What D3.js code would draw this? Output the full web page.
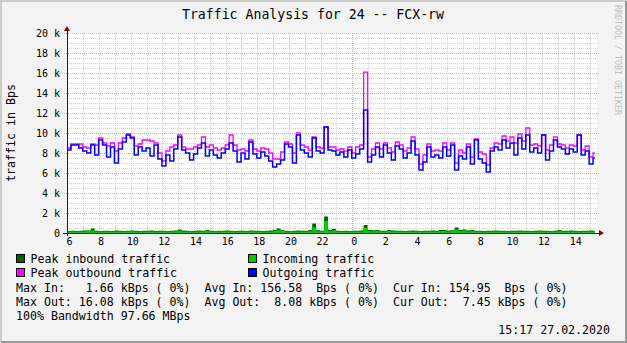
<!DOCTYPE html>
<html>
<head>
<meta charset="utf-8">
<script src="https://cdnjs.cloudflare.com/ajax/libs/d3/7.8.5/d3.min.js"></script>
<style>
body { margin: 0; background: #fff; }
svg { display: block; font-family: "DejaVu Sans Mono", monospace; }
text { white-space: pre; }
</style>
</head>
<body>
<div id="vis"></div>
<script>

// time axis in hours since midnight of the first day, one sample per 15 minutes
var startHour = 5.94;
var endHour = 39.44;
var stepHours = 0.25;
var lastHour = 39.3;

// traffic in kBps
var outgoing = [
	8.3,8.8,8.8,8.5,8.2,8.0,8.8,7.8,9.3,8.8,
	7.6,8.6,7.0,8.4,9.1,9.8,9.5,7.8,8.6,8.2,
	8.5,7.7,8.8,7.4,6.7,7.8,7.2,8.4,9.6,8.3,
	8.0,7.3,7.9,8.5,9.0,7.7,8.3,7.8,7.5,8.0,
	8.4,9.0,8.2,7.1,8.0,7.4,9.1,7.9,7.5,8.1,
	7.7,7.2,6.6,6.9,7.3,8.9,8.6,7.0,9.8,8.3,
	8.0,7.6,9.5,8.2,8.0,10.6,8.3,8.2,7.8,8.1,
	7.6,8.3,7.5,7.9,8.4,12.3,7.1,7.8,8.6,7.6,
	8.8,8.0,7.3,8.7,8.4,7.5,8.0,9.2,7.8,6.3,
	7.1,8.6,7.6,7.8,7.5,8.6,7.7,8.8,6.3,7.7,
	7.4,8.6,6.9,9.3,7.4,7.0,6.1,8.2,8.6,8.3,
	9.3,8.5,9.0,7.8,9.5,8.4,9.8,8.1,8.5,8.0,
	9.8,7.3,8.2,9.3,8.6,8.4,7.9,8.4,8.1,9.8,
	7.8,8.2,6.9,7.5
];

var peakOutgoing = [
	8.5,8.9,8.9,8.9,8.6,8.5,8.9,8.8,9.5,9.0,
	8.7,9.0,8.2,9.0,9.5,9.9,9.6,8.7,8.9,9.3,
	9.3,9.2,9.0,8.0,7.2,8.2,8.6,8.8,9.8,8.6,
	8.4,8.4,8.6,8.8,9.6,8.6,8.8,8.5,8.3,8.5,
	8.8,9.8,8.8,8.3,8.4,8.2,9.3,8.4,8.2,8.5,
	8.4,8.0,7.4,7.4,8.1,9.1,8.9,8.0,10.0,8.8,
	8.6,8.3,9.6,8.6,8.5,10.6,8.6,8.6,8.3,8.4,
	8.2,8.6,8.0,8.6,8.8,16.08,7.6,8.4,9.0,8.4,
	9.0,8.5,8.1,9.1,8.8,8.2,8.5,9.6,8.4,6.9,
	7.8,8.9,8.2,8.3,8.2,9.0,8.3,9.0,7.0,8.3,
	8.0,8.9,7.6,9.4,8.1,7.9,6.8,8.5,9.0,8.9,
	9.7,9.2,9.6,9.0,9.9,9.2,10.5,8.8,8.9,8.7,
	9.8,8.3,8.8,9.6,8.9,8.8,8.5,8.8,8.7,9.8,
	8.3,8.7,7.6,8.0
];

var incoming = [
	0.14,0.15,0.14,0.15,0.16,0.18,0.28,0.15,0.14,0.15,
	0.15,0.14,0.16,0.15,0.14,0.15,0.17,0.15,0.14,0.15,
	0.15,0.16,0.14,0.15,0.15,0.14,0.15,0.17,0.22,0.16,
	0.15,0.14,0.15,0.16,0.15,0.20,0.15,0.14,0.15,0.15,
	0.16,0.15,0.14,0.15,0.15,0.14,0.16,0.15,0.15,0.14,
	0.15,0.16,0.20,0.30,0.19,0.15,0.14,0.15,0.16,0.15,
	0.15,0.20,0.55,0.18,0.15,1.20,0.20,0.28,0.15,0.14,
	0.15,0.14,0.15,0.15,0.16,0.50,0.20,0.18,0.20,0.15,
	0.15,0.20,0.16,0.15,0.15,0.14,0.15,0.16,0.15,0.14,
	0.15,0.15,0.16,0.15,0.20,0.20,0.16,0.19,0.38,0.20,
	0.24,0.16,0.20,0.15,0.15,0.14,0.15,0.15,0.16,0.15,
	0.15,0.14,0.15,0.15,0.16,0.15,0.15,0.14,0.15,0.16,
	0.15,0.15,0.14,0.15,0.20,0.15,0.15,0.16,0.15,0.14,
	0.15,0.15,0.16,0.15
];

var peakIncoming = [
	0.20,0.22,0.20,0.22,0.24,0.25,0.45,0.22,0.20,0.22,
	0.22,0.20,0.24,0.22,0.20,0.22,0.25,0.22,0.20,0.22,
	0.22,0.24,0.20,0.22,0.22,0.20,0.22,0.25,0.35,0.24,
	0.22,0.20,0.22,0.24,0.22,0.30,0.22,0.20,0.22,0.22,
	0.24,0.22,0.20,0.22,0.22,0.20,0.24,0.22,0.22,0.20,
	0.22,0.24,0.30,0.45,0.28,0.22,0.20,0.22,0.24,0.22,
	0.22,0.30,0.95,0.28,0.22,1.66,0.30,0.40,0.22,0.20,
	0.22,0.20,0.22,0.22,0.24,0.80,0.30,0.28,0.30,0.22,
	0.22,0.30,0.24,0.22,0.22,0.20,0.22,0.24,0.22,0.20,
	0.22,0.22,0.24,0.22,0.30,0.30,0.24,0.28,0.55,0.30,
	0.35,0.24,0.30,0.22,0.22,0.20,0.22,0.22,0.24,0.22,
	0.22,0.20,0.22,0.22,0.24,0.22,0.22,0.20,0.22,0.24,
	0.22,0.22,0.20,0.22,0.30,0.22,0.22,0.24,0.22,0.20,
	0.22,0.22,0.24,0.22
];

var yTicks = [0, 2, 4, 6, 8, 10, 12, 14, 16, 18, 20];
var yTickLabels = ["0", "2 k", "4 k", "6 k", "8 k", "10 k", "12 k", "14 k", "16 k", "18 k", "20 k"];
var xTicks = [6, 8, 10, 12, 14, 16, 18, 20, 22, 24, 26, 28, 30, 32, 34, 36, 38];
var xTickLabels = ["6", "8", "10", "12", "14", "16", "18", "20", "22", "0", "2", "4", "6", "8", "10", "12", "14"];

var legendNames = ["Peak inbound traffic", "Incoming traffic", "Peak outbound traffic", "Outgoing traffic"];
var legendColors = ["#006600", "#00cc00", "#ff00ff", "#0000ff"];

var statLines = [
	"Max In:   1.66 kBps ( 0%)  Avg In: 156.58  Bps ( 0%)  Cur In: 154.95  Bps ( 0%)",
	"Max Out: 16.08 kBps ( 0%)  Avg Out:  8.08 kBps ( 0%)  Cur Out:  7.45 kBps ( 0%)",
	"100% Bandwidth 97.66 MBps"
];
var titleText = "Traffic Analysis for 24 -- FCX-rw";
var axisLabel = "traffic in Bps";
var stampText = "15:17 27.02.2020";
var watermark = "RRDTOOL / TOBI OETIKER";

function createChart(selector) {

	var width = 627;
	var height = 343;

	var x = d3.scaleLinear().domain([startHour, endHour]).range([67, 597]);
	var y = d3.scaleLinear().domain([0, 20]).range([233, 33]);

	var svg = d3.select(selector)
		.append('svg')
		.attr('width', width)
		.attr('height', height);

	// background and 3d frame
	svg.append('rect').attr('width', width).attr('height', height).attr('fill', '#f3f3f3');
	svg.append('path').attr('d', 'M1,' + (height - 1) + ' V1 H' + (width - 1))
		.attr('fill', 'none').attr('stroke', '#cbcbcb').attr('stroke-width', 2);
	svg.append('path').attr('d', 'M1,' + (height - 1) + ' H' + (width - 1) + ' V1')
		.attr('fill', 'none').attr('stroke', '#999999').attr('stroke-width', 2);

	// canvas
	svg.append('rect')
		.attr('x', x.range()[0]).attr('y', y.range()[1])
		.attr('width', x.range()[1] - x.range()[0])
		.attr('height', y.range()[0] - y.range()[1])
		.attr('fill', '#ffffff');

	var grid = svg.append('g').attr('shape-rendering', 'crispEdges');

	// minor grid
	var minorY = d3.range(0.5, 20.01, 0.5).filter(d => d % 2 !== 0);
	grid.selectAll('.hminor').data(minorY).enter().append('line')
		.attr('x1', x.range()[0]).attr('x2', x.range()[1])
		.attr('y1', d => y(d)).attr('y2', d => y(d))
		.attr('stroke', '#d4d4d4').attr('stroke-dasharray', '1,1');

	var minorX = d3.range(6, 40).filter(d => d !== 24);
	grid.selectAll('.vminor').data(minorX).enter().append('line')
		.attr('x1', d => x(d)).attr('x2', d => x(d))
		.attr('y1', y.range()[1]).attr('y2', y.range()[0])
		.attr('stroke', '#d4d4d4').attr('stroke-dasharray', '1,1');

	// major grid
	grid.selectAll('.hmajor').data(yTicks.slice(1)).enter().append('line')
		.attr('x1', x.range()[0] - 3).attr('x2', x.range()[1] + 2)
		.attr('y1', d => y(d)).attr('y2', d => y(d))
		.attr('stroke', '#e2a6a6').attr('stroke-dasharray', '1,1');

	grid.selectAll('.vmajor').data([24]).enter().append('line')
		.attr('x1', d => x(d)).attr('x2', d => x(d))
		.attr('y1', y.range()[1]).attr('y2', y.range()[0] + 2)
		.attr('stroke', '#e2a6a6').attr('stroke-dasharray', '1,1');

	function toPoints(values) {
		var pts = values.map((v, i) => ({t: startHour + i * stepHours, v: v}));
		pts.push({t: lastHour, v: values[values.length - 1]});
		return pts;
	}

	var area = d3.area()
		.curve(d3.curveStepAfter)
		.x(d => x(d.t))
		.y0(y(0))
		.y1(d => y(d.v));

	var line = d3.line()
		.curve(d3.curveStepAfter)
		.x(d => x(d.t))
		.y(d => y(d.v));

	svg.append('path').attr('d', area(toPoints(peakIncoming))).attr('fill', legendColors[0]);
	svg.append('path').attr('d', area(toPoints(incoming))).attr('fill', legendColors[1]);
	svg.append('path').attr('d', line(toPoints(peakOutgoing)))
		.attr('fill', 'none').attr('stroke', legendColors[2]).attr('stroke-width', 1.3);
	svg.append('path').attr('d', line(toPoints(outgoing)))
		.attr('fill', 'none').attr('stroke', legendColors[3]).attr('stroke-width', 1.5);

	// axes with arrows
	var x0 = x.range()[0], x1 = x.range()[1], yb = y.range()[0], yt = y.range()[1];
	var axes = svg.append('g').attr('shape-rendering', 'crispEdges');
	axes.append('line').attr('x1', x0).attr('x2', x0).attr('y1', yb + 3).attr('y2', yt - 4)
		.attr('stroke', '#1f1f1f');
	axes.append('line').attr('x1', x0 - 4).attr('x2', x1 + 3).attr('y1', yb).attr('y2', yb)
		.attr('stroke', '#1f1f1f');
	svg.append('path')
		.attr('d', 'M' + (x0 - 3) + ',' + (yt - 2) + ' L' + (x0 + 3) + ',' + (yt - 2) + ' L' + x0 + ',' + (yt - 7) + ' Z')
		.attr('fill', '#7f0000');
	svg.append('path')
		.attr('d', 'M' + (x1 + 2) + ',' + (yb - 3) + ' L' + (x1 + 2) + ',' + (yb + 3) + ' L' + (x1 + 7) + ',' + yb + ' Z')
		.attr('fill', '#7f0000');

	// tick labels
	svg.selectAll('.ylab').data(yTicks).enter().append('text')
		.attr('x', 60)
		.attr('y', d => y(d) + 3.5)
		.attr('text-anchor', 'end')
		.attr('font-size', '10px')
		.attr('fill', '#000')
		.text((d, i) => yTickLabels[i]);

	svg.selectAll('.xlab').data(xTicks).enter().append('text')
		.attr('x', d => x(d) + 1.5)
		.attr('y', 245)
		.attr('text-anchor', 'middle')
		.attr('font-size', '10px')
		.attr('fill', '#000')
		.text((d, i) => xTickLabels[i]);

	// title, axis label, watermark
	svg.append('text').attr('x', 313).attr('y', 18.5)
		.attr('text-anchor', 'middle').attr('font-size', '13.2px').text(titleText);

	svg.append('text').attr('transform', 'translate(15,133) rotate(-90)')
		.attr('text-anchor', 'middle').attr('font-size', '11.6px').text(axisLabel);

	svg.append('text').attr('transform', 'translate(615,5) rotate(90)')
		.attr('font-size', '8.3px').attr('fill', '#bdbdbd').text(watermark);

	// legend
	var legend = svg.selectAll('.legend').data(legendNames).enter().append('g')
		.attr('transform', (d, i) => 'translate(' + (i % 2 ? 248 : 16) + ',' + (254.5 + Math.floor(i / 2) * 14.3) + ')');

	legend.append('rect')
		.attr('width', 8).attr('height', 8)
		.attr('fill', (d, i) => legendColors[i])
		.attr('stroke', '#000').attr('shape-rendering', 'crispEdges');

	legend.append('text')
		.attr('x', 14.5).attr('y', 8.6)
		.attr('font-size', '11.6px')
		.text(d => d);

	svg.selectAll('.stat').data(statLines).enter().append('text')
		.attr('x', 16)
		.attr('y', (d, i) => 291.6 + i * 14.2)
		.attr('font-size', '11.6px')
		.attr('xml:space', 'preserve')
		.text(d => d);

	svg.append('text').attr('x', 610).attr('y', 333.5)
		.attr('text-anchor', 'end').attr('font-size', '11.6px').text(stampText);
}

createChart('#vis');

</script>
</body>
</html>
